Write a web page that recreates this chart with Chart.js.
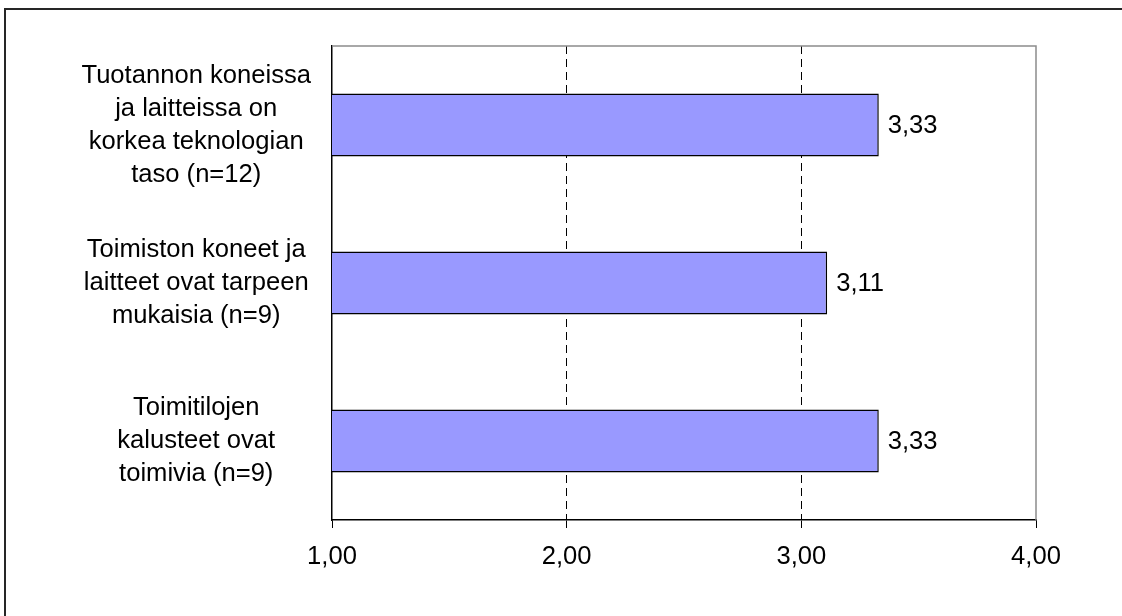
<!DOCTYPE html>
<html>
<head>
<meta charset="utf-8">
<script src="https://cdn.jsdelivr.net/npm/chart.js@4/dist/chart.umd.min.js"></script>
<style>
  html, body { margin: 0; padding: 0; background: #fff; overflow: hidden; }
  #wrap { position: relative; width: 1122px; height: 616px; }
  #frame {
    position: absolute; left: 4px; top: 8px; width: 1200px; height: 700px;
    border-top: 2px solid #262626; border-left: 2px solid #262626;
  }
  #chart { position: absolute; left: 0; top: 0; }
</style>
</head>
<body>
<div id="wrap">
  <div id="frame"></div>
  <canvas id="chart" width="1122" height="616"></canvas>
</div>
<script>
var categories = [
    ['Tuotannon koneissa', 'ja laitteissa on', 'korkea teknologian', 'taso (n=12)'],
    ['Toimiston koneet ja', 'laitteet ovat tarpeen', 'mukaisia (n=9)'],
    ['Toimitilojen', 'kalusteet ovat', 'toimivia (n=9)']
];
var means = [3.33, 3.11, 3.33];
var axisTicks = [1, 2, 3, 4];

var FONT = '"Liberation Sans", Arial, sans-serif';
var FONT_SIZE = 25.6;

function fmt(v) {
    return v.toFixed(2).replace('.', ',');
}

// value text just past the end of each bar
var valueLabels = {
    id: 'valueLabels',
    afterDatasetsDraw: function (chart) {
        var ctx = chart.ctx;
        ctx.save();
        ctx.font = FONT_SIZE + 'px ' + FONT;
        ctx.fillStyle = '#000';
        ctx.textAlign = 'left';
        ctx.textBaseline = 'middle';
        chart.getDatasetMeta(0).data.forEach(function (bar, i) {
            ctx.fillText(fmt(means[i]), bar.x + 9, bar.y + 1);
        });
        ctx.restore();
    }
};

// grey top and right edges of the plot area
var plotFrame = {
    id: 'plotFrame',
    beforeDatasetsDraw: function (chart) {
        var a = chart.chartArea, ctx = chart.ctx;
        ctx.save();
        ctx.strokeStyle = '#8c8c8c';
        ctx.lineWidth = 1.5;
        ctx.beginPath();
        ctx.moveTo(a.left, a.top);
        ctx.lineTo(a.right, a.top);
        ctx.lineTo(a.right, a.bottom);
        ctx.stroke();
        ctx.restore();
    }
};

new Chart(document.getElementById('chart'), {
    type: 'bar',
    data: {
        labels: categories,
        datasets: [{
            data: means,
            backgroundColor: '#9999ff',
            borderColor: '#000',
            borderWidth: 1.5,
            borderSkipped: false,
            barPercentage: 0.4,
            categoryPercentage: 1
        }]
    },
    options: {
        indexAxis: 'y',
        responsive: false,
        animation: false,
        events: [],
        layout: { padding: { top: 46, right: 86, left: 0, bottom: 0 } },
        plugins: { legend: { display: false }, tooltip: { enabled: false } },
        scales: {
            x: {
                min: 1,
                max: 4,
                afterBuildTicks: function (scale) {
                    scale.ticks = axisTicks.map(function (v) { return { value: v }; });
                },
                afterFit: function (scale) {
                    scale.height = 96;
                    scale.paddingLeft = 0;
                    scale.paddingRight = 0;
                },
                grid: {
                    color: function (c) {
                        var v = c.tick && c.tick.value;
                        return (v === 2 || v === 3) ? '#000' : 'rgba(0,0,0,0)';
                    },
                    lineWidth: 1,
                    tickColor: '#000',
                    tickLength: 8,
                    tickBorderDash: []
                },
                border: { display: true, color: '#000', width: 1.5, dash: [8, 5] },
                ticks: {
                    color: '#000',
                    padding: 14,
                    maxRotation: 0,
                    font: { family: FONT, size: FONT_SIZE },
                    callback: function (v) { return fmt(v); }
                }
            },
            y: {
                afterFit: function (scale) {
                    scale.width = 332;
                    // labels sit well inside their bands, no extra room needed
                    scale.paddingTop = 0;
                    scale.paddingBottom = 0;
                },
                grid: { display: false },
                border: { display: true, color: '#000', width: 1.5 },
                ticks: {
                    color: '#000',
                    padding: 13,
                    crossAlign: 'center',
                    font: { family: FONT, size: FONT_SIZE, lineHeight: 1.29 }
                }
            }
        }
    },
    plugins: [plotFrame, valueLabels]
});
</script>
</body>
</html>
